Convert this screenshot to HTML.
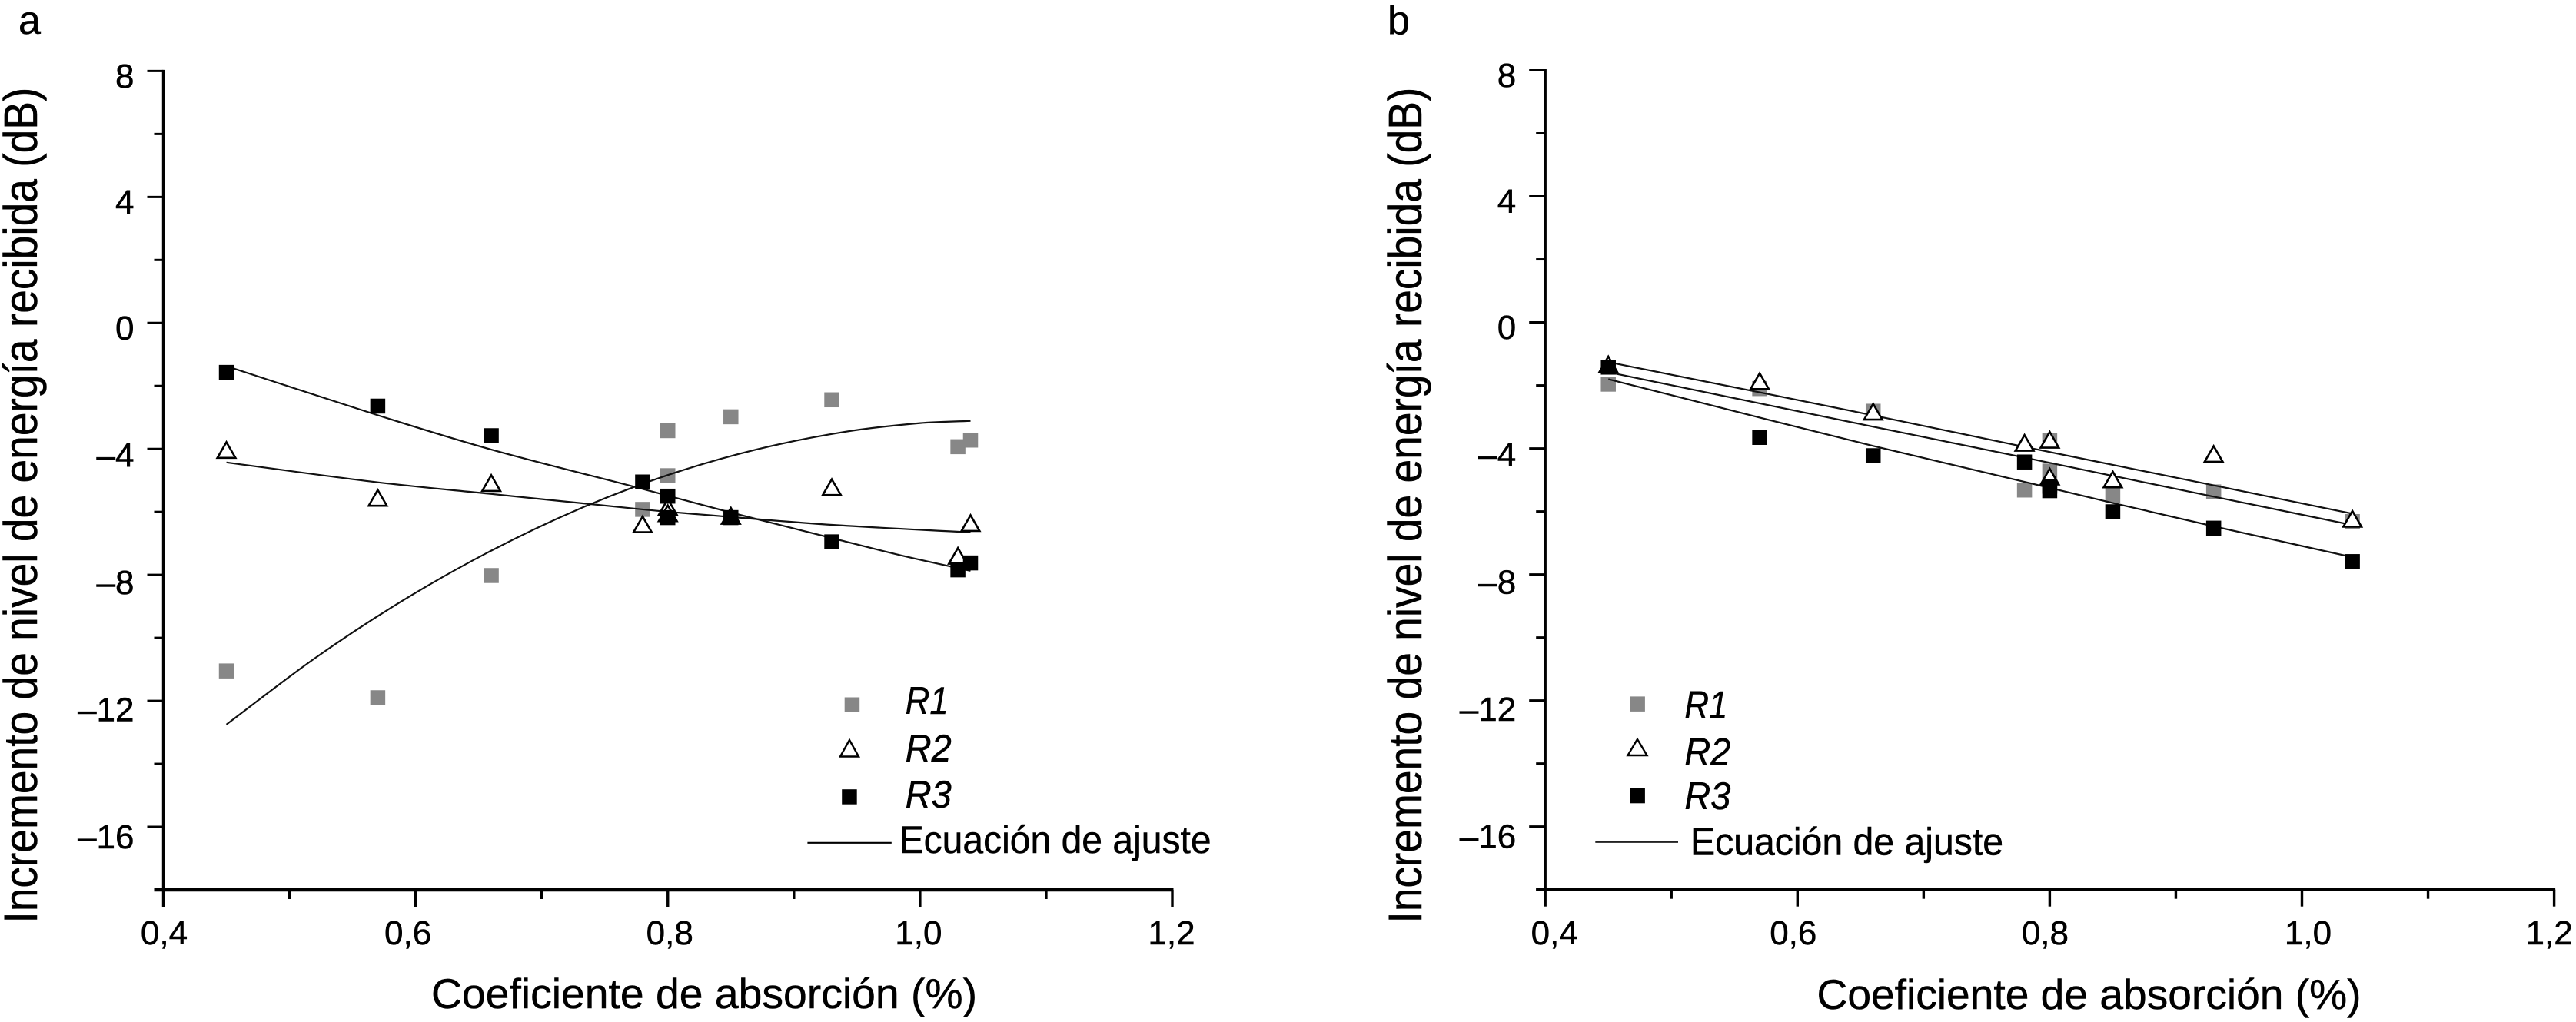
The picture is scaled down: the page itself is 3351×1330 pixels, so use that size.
<!DOCTYPE html>
<html lang="es">
<head>
<meta charset="utf-8">
<title>Incremento de nivel de energía recibida</title>
<style>
html,body{margin:0;padding:0;background:#fff;width:3351px;height:1330px;overflow:hidden}
svg{display:block;font-family:"Liberation Sans",sans-serif;fill:#000}
text{stroke:#000;stroke-width:0.5px}
</style>
</head>
<body>
<svg id="figure" xmlns="http://www.w3.org/2000/svg" width="3351" height="1330" viewBox="0 0 3351 1330">
  <rect width="3351" height="1330" fill="#fff"/>

  <g id="panel-a"></g>
  <g id="panel-b"></g>

  <text x="24" y="44" font-size="52">a</text>
  <text x="1805" y="44" font-size="52">b</text>

  <text transform="translate(48,1201.6) rotate(-90)" font-size="61" textLength="1088" lengthAdjust="spacingAndGlyphs">Incremento de nivel de energía recibida (dB)</text>
  <text transform="translate(1849,1201.6) rotate(-90)" font-size="61" textLength="1088" lengthAdjust="spacingAndGlyphs">Incremento de nivel de energía recibida (dB)</text>
  <text x="561" y="1312" font-size="55" textLength="710" lengthAdjust="spacingAndGlyphs">Coeficiente de absorción (%)</text>
  <text x="2363.5" y="1313" font-size="55" textLength="708" lengthAdjust="spacingAndGlyphs">Coeficiente de absorción (%)</text>

  <g>
    <rect x="1098.7" y="907.5" width="19.5" height="19.5" fill="#878787"/>
    <text x="1177.7" y="929" font-size="50" font-style="italic" textLength="56" lengthAdjust="spacingAndGlyphs">R1</text>
    <polygon points="1105,963 1117,984.5 1093,984.5" fill="#fff" stroke="#000" stroke-width="2.4"/>
    <text x="1177.7" y="991" font-size="50" font-style="italic" textLength="60" lengthAdjust="spacingAndGlyphs">R2</text>
    <rect x="1095.2" y="1027.2" width="19.5" height="19.5" fill="#000"/>
    <text x="1177.7" y="1051" font-size="50" font-style="italic" textLength="60" lengthAdjust="spacingAndGlyphs">R3</text>
    <line x1="1050.4" x2="1159.8" y1="1096.8" y2="1096.8" stroke="#000" stroke-width="2.2"/>
    <text x="1169.6" y="1110" font-size="50" textLength="406" lengthAdjust="spacingAndGlyphs">Ecuación de ajuste</text>
  </g>

  <g>
    <rect x="2120.4" y="906.4" width="19.5" height="19.5" fill="#878787"/>
    <text x="2191.4" y="934.5" font-size="50" font-style="italic" textLength="56" lengthAdjust="spacingAndGlyphs">R1</text>
    <polygon points="2130,962 2142.5,983 2117.5,983" fill="#fff" stroke="#000" stroke-width="2.4"/>
    <text x="2191.4" y="995.4" font-size="50" font-style="italic" textLength="60" lengthAdjust="spacingAndGlyphs">R2</text>
    <rect x="2120.4" y="1025.8" width="19.5" height="19.5" fill="#000"/>
    <text x="2191.4" y="1052.9" font-size="50" font-style="italic" textLength="60" lengthAdjust="spacingAndGlyphs">R3</text>
    <line x1="2075.3" x2="2183" y1="1095.8" y2="1095.8" stroke="#222" stroke-width="2.2"/>
    <text x="2199" y="1112.7" font-size="50" textLength="407" lengthAdjust="spacingAndGlyphs">Ecuación de ajuste</text>
  </g>
</svg>

<script>
/* Axis data */
const xTickValues = [0.4, 0.5, 0.6, 0.7, 0.8, 0.9, 1.0, 1.1, 1.2];
const xTickLabels = ['0,4', '', '0,6', '', '0,8', '', '1,0', '', '1,2'];
const yTickValues = [8, 6, 4, 2, 0, -2, -4, -6, -8, -10, -12, -14, -16, -18];
const yTickLabels = ['8', '', '4', '', '0', '', '–4', '', '–8', '', '–12', '', '–16', ''];

/* Panel a: measured points */
const aR1X = [0.45, 0.57, 0.66, 0.78, 0.80, 0.80, 0.85, 0.93, 1.03, 1.04];
const aR1Y = [-11.05, -11.9, -8.02, -5.92, -3.42, -4.85, -2.98, -2.44, -3.93, -3.72];
const aR2X = [0.45, 0.57, 0.66, 0.78, 0.80, 0.80, 0.85, 0.93, 1.03, 1.04];
const aR2Y = [-4.04, -5.56, -5.09, -6.4, -5.85, -6.05, -6.13, -5.22, -7.4, -6.36];
const aR3X = [0.45, 0.57, 0.66, 0.78, 0.80, 0.80, 0.85, 0.93, 1.03, 1.04];
const aR3Y = [-1.57, -2.64, -3.58, -5.05, -5.5, -6.18, -6.18, -6.95, -7.84, -7.62];

/* Panel a: fit curves */
const aFit1X = [0.45, 0.52, 0.59, 0.66, 0.73, 0.80, 0.87, 0.94, 1.00, 1.04];
const aFit1Y = [-12.75, -10.65, -8.81, -7.23, -5.90, -4.83, -4.02, -3.46, -3.18, -3.11];
const aFit2X = [0.45, 0.57, 0.66, 0.78, 0.85, 0.93, 1.04];
const aFit2Y = [-4.43, -5.06, -5.43, -5.92, -6.16, -6.41, -6.65];
const aFit3X = [0.45, 0.57, 0.66, 0.78, 0.85, 0.93, 0.987, 1.04];
const aFit3Y = [-1.37, -2.93, -4.02, -5.27, -6.02, -6.83, -7.4, -7.87];

/* Panel b: measured points */
const bR1X = [0.45, 0.57, 0.66, 0.78, 0.80, 0.80, 0.85, 0.93, 1.04];
const bR1Y = [-1.96, -2.1, -2.82, -5.32, -3.76, -4.72, -5.49, -5.38, -6.32];
const bR2X = [0.45, 0.57, 0.66, 0.78, 0.80, 0.80, 0.85, 0.93, 1.04];
const bR2Y = [-1.34, -1.87, -2.84, -3.83, -3.73, -4.9, -4.99, -4.18, -6.24];
const bR3X = [0.45, 0.57, 0.66, 0.78, 0.80, 0.80, 0.85, 0.93, 1.04];
const bR3Y = [-1.42, -3.65, -4.23, -4.43, -5.2, -5.34, -6.01, -6.53, -7.59];

/* Panel b: fit curves */
const bFitX = [0.45, 0.57, 0.66, 0.78, 0.85, 0.93, 1.04];
const bFit1Y = [-1.26, -2.22, -2.95, -3.95, -4.52, -5.17, -6.07];
const bFit2Y = [-1.58, -2.57, -3.31, -4.29, -4.87, -5.53, -6.43];
const bFit3Y = [-1.8, -3.02, -3.92, -5.06, -5.73, -6.47, -7.45];

const NS = 'http://www.w3.org/2000/svg';
const GRAY = '#878787';
const BLACK = '#000';

function svgEl(tag, parent, attrs) {
  const el = document.createElementNS(NS, tag);
  for (const k in attrs) el.setAttribute(k, attrs[k]);
  parent.appendChild(el);
  return el;
}

function smoothPath(pts) {
  let d = 'M' + pts[0][0].toFixed(2) + ' ' + pts[0][1].toFixed(2);
  for (let i = 0; i < pts.length - 1; i++) {
    const p0 = pts[Math.max(0, i - 1)];
    const p1 = pts[i];
    const p2 = pts[i + 1];
    const p3 = pts[Math.min(pts.length - 1, i + 2)];
    const seg = p2[0] - p1[0];
    const m1 = (p2[1] - p0[1]) / (p2[0] - p0[0]);
    const m2 = (p3[1] - p1[1]) / (p3[0] - p1[0]);
    d += ' C' + (p1[0] + seg / 3).toFixed(2) + ' ' + (p1[1] + m1 * seg / 3).toFixed(2)
       + ' ' + (p2[0] - seg / 3).toFixed(2) + ' ' + (p2[1] - m2 * seg / 3).toFixed(2)
       + ' ' + p2[0].toFixed(2) + ' ' + p2[1].toFixed(2);
  }
  return d;
}

function drawAxes(root, sx, sy, x0, xEnd, yTop, yBottom, labelNudges) {
  const yAxis = svgEl('line', root, {x1: x0, x2: x0, y1: yTop - 1.5, y2: yBottom, stroke: BLACK, 'stroke-width': 3.4});
  
  
  const xAxis = svgEl('line', root, {x1: x0 - 12, x2: xEnd + 1.5, y1: yBottom, y2: yBottom, stroke: BLACK, 'stroke-width': 4.4});
  
  

  yTickValues.forEach(function (v, i) {
    const major = yTickLabels[i] !== '';
    const y = sy(v);
    const tick = svgEl('line', root, {x1: x0 - (major ? 21 : 12), x2: x0, y1: y, y2: y, stroke: BLACK, 'stroke-width': 3});
    
    
    if (major) {
      const label = svgEl('text', root, {x: x0 - 38, y: y + 15.5 + 6 + Math.max(0, -v) * 0.4, 'font-size': 44, 'text-anchor': 'end'});
      label.textContent = yTickLabels[i];
      
      
    }
  });

  xTickValues.forEach(function (v, i) {
    const major = xTickLabels[i] !== '';
    const x = sx(v);
    const tick = svgEl('line', root, {x1: x, x2: x, y1: yBottom, y2: yBottom + (major ? 22 : 12), stroke: BLACK, 'stroke-width': 3.4});
    
    
    if (major) {
      const label = svgEl('text', root, {x: x + labelNudges[i / 2], y: 1229, 'font-size': 44, 'text-anchor': 'middle'});
      label.textContent = xTickLabels[i];
      
      
    }
  });
}

function drawSquares(root, sx, sy, xs, ys, fill, name) {
  xs.forEach(function (v, i) {
    const s = svgEl('rect', root, {x: sx(v) - 9.75, y: sy(ys[i]) - 9.75, width: 19.5, height: 19.5, fill: fill});
    
    
  });
}

function drawTriangles(root, sx, sy, xs, ys, name) {
  xs.forEach(function (v, i) {
    const cx = sx(v);
    const cy = sy(ys[i]);
    const t = svgEl('polygon', root, {
      points: cx + ',' + (cy - 10.5) + ' ' + (cx + 11.8) + ',' + (cy + 10) + ' ' + (cx - 11.8) + ',' + (cy + 10),
      fill: '#fff', stroke: BLACK, 'stroke-width': 2.6
    });
    
    
  });
}

function drawFit(root, sx, sy, xs, ys, name) {
  const pts = xs.map(function (v, i) { return [sx(v), sy(ys[i])]; });
  const p = svgEl('path', root, {d: smoothPath(pts), fill: 'none', stroke: '#111', 'stroke-width': 2.2});
  
  
}

/* Panel a */
(function () {
  const root = document.getElementById('panel-a');
  const x0 = 212.5, x1 = 1525, yT = 92.4, yB = 1158;
  const sx = function (v) { return x0 + (v - 0.4) / 0.8 * (x1 - x0); };
  const sy = function (v) { return yT + (8 - v) / 26 * (yB - yT); };
  drawAxes(root, sx, sy, x0, x1, yT, yB, [1, -10, 2.5, -2, -1]);
  drawSquares(root, sx, sy, aR1X, aR1Y, GRAY, 'r1-point');
  drawFit(root, sx, sy, aFit1X, aFit1Y, 'r1-fit-line');
  drawFit(root, sx, sy, aFit2X, aFit2Y, 'r2-fit-line');
  drawFit(root, sx, sy, aFit3X, aFit3Y, 'r3-fit-line');
  drawTriangles(root, sx, sy, aR2X, aR2Y, 'r2-point');
  drawSquares(root, sx, sy, aR3X, aR3Y, BLACK, 'r3-point');
})();

/* Panel b */
(function () {
  const root = document.getElementById('panel-b');
  const x0 = 2010.2, x1 = 3322.6, yT = 91.5, yB = 1157.7;
  const sx = function (v) { return x0 + (v - 0.4) / 0.8 * (x1 - x0); };
  const sy = function (v) { return yT + (8 - v) / 26 * (yB - yT); };
  drawAxes(root, sx, sy, x0, x1, yT, yB, [12, -5.5, -6, 8, -6.5]);
  drawSquares(root, sx, sy, bR1X, bR1Y, GRAY, 'r1-point');
  drawFit(root, sx, sy, bFitX, bFit1Y, 'r2-fit-line');
  drawFit(root, sx, sy, bFitX, bFit2Y, 'r1-fit-line');
  drawFit(root, sx, sy, bFitX, bFit3Y, 'r3-fit-line');
  drawTriangles(root, sx, sy, bR2X, bR2Y, 'r2-point');
  drawSquares(root, sx, sy, bR3X, bR3Y, BLACK, 'r3-point');
})();
</script>
</body>
</html>
